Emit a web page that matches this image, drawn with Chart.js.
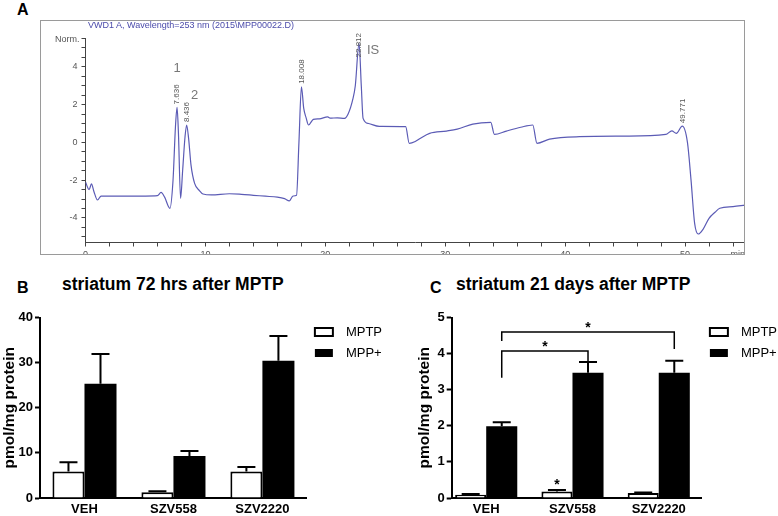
<!DOCTYPE html>
<html>
<head>
<meta charset="utf-8">
<script src="https://cdn.jsdelivr.net/npm/chart.js@4.4.1/dist/chart.umd.min.js"></script>
<style>
  html, body { margin: 0; padding: 0; background: #fff; }
  body { width: 778px; height: 516px; position: relative; overflow: hidden; font-family: Arial, 'Liberation Sans', sans-serif; }
  .letter { position: absolute; font-weight: bold; font-size: 16px; line-height: 16px; color: #000; }
  .title { position: absolute; font-weight: bold; font-size: 17.5px; line-height: 18px; color: #000; white-space: nowrap; }
  #frameA { position: absolute; left: 40px; top: 20px; width: 703px; height: 233px; border: 1px solid #9a9a9a; overflow: hidden; }
  #chartA { position: absolute; left: -1px; top: -1px; }
  #headerA { position: absolute; left: 88px; top: 20px; font-size: 9px; line-height: 10px; color: #4b4bab; white-space: nowrap; }
  canvas { display: block; }
  #chartB { position: absolute; left: 0; top: 300px; }
  #chartC { position: absolute; left: 415px; top: 300px; }
</style>
</head>
<body>
<div class="letter" style="left:17px; top:2px;">A</div>
<div id="frameA"><canvas id="chartA" width="705" height="235"></canvas></div>
<div id="headerA">VWD1 A, Wavelength=253 nm (2015\MPP00022.D)</div>

<div class="letter" style="left:17px; top:280px;">B</div>
<div class="title" style="left:62px; top:275px;">striatum 72 hrs after MPTP</div>
<canvas id="chartB" width="392" height="216"></canvas>

<div class="letter" style="left:430px; top:280px;">C</div>
<div class="title" style="left:456px; top:275px;">striatum 21 days after MPTP</div>
<canvas id="chartC" width="372" height="216"></canvas>

<script>
// Chromatogram (panel A): retention time in min, detector signal (Norm.)
const chromTime = [0, 0.3, 0.5, 0.7, 1.0, 1.3, 3, 5, 6.0, 6.3, 6.6, 7.04, 7.3, 7.5, 7.636, 7.75, 7.93, 8.1, 8.3, 8.436, 8.6, 8.8, 9.1, 9.5, 9.8, 10.5, 12, 13, 14, 15, 16, 16.6, 17.0, 17.3, 17.6, 17.8, 18.008, 18.2, 18.4, 18.6, 19, 19.5, 20.2, 20.4, 21.0, 21.6, 21.9, 22.3, 22.5, 22.812, 23.0, 23.15, 23.6, 24.5, 26.7, 27.0, 27.5, 27.9, 28.7, 30.1, 31, 32.3, 33.8, 34.1, 35.1, 36.3, 37.3, 37.65, 38.7, 41.2, 45, 48.4, 48.9, 49.27, 49.771, 50.2, 50.5, 50.8, 51.1, 51.5, 52.0, 52.5, 52.9, 54.0, 55.0];
const chromSignal = [-2.1, -2.5, -2.2, -2.6, -3.05, -2.84, -2.84, -2.84, -2.82, -2.65, -2.9, -3.49, -2.0, 0.8, 1.85, 0.5, -2.96, -1.5, 0.3, 0.92, 0.2, -1.2, -2.17, -2.55, -2.73, -2.78, -2.72, -2.75, -2.8, -2.85, -2.9, -2.98, -3.1, -2.84, -2.8, 0.0, 2.94, 1.8, 1.3, 0.92, 1.22, 1.25, 1.35, 1.28, 1.3, 1.27, 1.5, 2.3, 3.0, 5.24, 3.0, 1.27, 1.0, 0.85, 0.83, -0.05, 0.05, 0.21, 0.48, 0.6, 0.7, 0.97, 1.06, 0.42, 0.6, 0.8, 0.92, -0.05, 0.17, 0.3, 0.33, 0.42, 0.61, 0.48, 0.86, 0.0, -2.0, -4.29, -4.85, -4.6, -4.02, -3.7, -3.49, -3.4, -3.32];
const chromXTicks = [0, 2, 4, 6, 8, 10, 12, 14, 16, 18, 20, 22, 24, 26, 28, 30, 32, 34, 36, 38, 40, 42, 44, 46, 48, 50, 52, 54];
const chromYTicks = [-5, -4.5, -4, -3.5, -3, -2.5, -2, -1.5, -1, -0.5, 0, 0.5, 1, 1.5, 2, 2.5, 3, 3.5, 4, 4.5, 5, 5.5];
const chromPeakTimes = [7.636, 8.436, 18.008, 22.812, 49.771];
const chromPeakLabels = ['7.636', '8.436', '18.008', '22.812', '49.771'];
const chromPeakNames = ['1', '2', '', 'IS', ''];
const chromXUnit = 'min';
const chromYUnit = 'Norm.';

// Bar panels (B and C)
const groups = ['VEH', 'SZV558', 'SZV2220'];
const seriesNames = ['MPTP', 'MPP+'];
const b72hMPTP = [5.9, 1.3, 5.9];
const b72hMPTPSem = [2.05, 0.2, 0.95];
const b72hMPP = [25.3, 9.3, 30.4];
const b72hMPPSem = [6.6, 1.1, 5.5];
const c21dMPTP = [0.09, 0.18, 0.14];
const c21dMPTPSem = [0.02, 0.04, 0.01];
const c21dMPP = [1.99, 3.47, 3.47];
const c21dMPPSem = [0.11, 0.30, 0.33];
// significance brackets in C (MPP+ bars): from group, to group, bar level, leg ends
const cSigFrom = [0, 0];
const cSigTo = [1, 2];
const cSigLevel = [4.07, 4.6];
const cSigLeftEnd = [3.33, 4.35];
const cSigRightEnd = [3.79, 4.13];

const FONT = "Arial, 'Liberation Sans', sans-serif";
Chart.defaults.font.family = FONT;
Chart.defaults.color = '#000';

// Labels on the chromatogram peaks
const chromAnnotations = {
    id: 'chromAnnotations',
    afterDatasetsDraw(chart) {
        const { ctx, chartArea, scales: { x, y } } = chart;
        ctx.save();
        // retention times, rotated
        ctx.font = '8px ' + FONT;
        ctx.fillStyle = '#555';
        chromPeakTimes.forEach((t, i) => {
            const idx = chromTime.indexOf(t);
            const px = x.getPixelForValue(t);
            const py = y.getPixelForValue(chromSignal[idx]);
            const w = ctx.measureText(chromPeakLabels[i]).width;
            const start = Math.max(py - 3, 13 + w);
            ctx.save();
            ctx.translate(px, start);
            ctx.rotate(-Math.PI / 2);
            ctx.textAlign = 'left';
            ctx.textBaseline = 'middle';
            ctx.fillText(chromPeakLabels[i], 0, 0);
            ctx.restore();
        });
        // peak names
        const offsets = [[0, -39], [8, -30], [0, 0], [14, 7], [0, 0]];
        ctx.font = '13px ' + FONT;
        ctx.fillStyle = '#777';
        ctx.textAlign = 'center';
        ctx.textBaseline = 'middle';
        chromPeakNames.forEach((name, i) => {
            if (!name) return;
            const idx = chromTime.indexOf(chromPeakTimes[i]);
            const px = x.getPixelForValue(chromPeakTimes[i]);
            const py = y.getPixelForValue(chromSignal[idx]);
            ctx.fillText(name, px + offsets[i][0], py + offsets[i][1]);
        });
        // axis units
        ctx.font = '9px ' + FONT;
        ctx.fillStyle = '#555';
        ctx.textAlign = 'right';
        ctx.fillText(chromYUnit, chartArea.left - 6, y.getPixelForValue(y.max) + 1);
        ctx.textBaseline = 'top';
        ctx.fillText(chromXUnit, chartArea.right, chartArea.bottom + 8);
        ctx.restore();
    }
};

// Upper SEM bars
const errorBars = {
    id: 'errorBars',
    afterDatasetsDraw(chart, args, opts) {
        const { ctx } = chart;
        const y = chart.scales.y;
        ctx.save();
        ctx.strokeStyle = '#000';
        ctx.lineWidth = 2;
        (opts.sem || []).forEach((sems, d) => {
            const values = chart.data.datasets[d].data;
            chart.getDatasetMeta(d).data.forEach((bar, i) => {
                const top = y.getPixelForValue(values[i] + sems[i]);
                const base = y.getPixelForValue(values[i]);
                ctx.beginPath();
                ctx.moveTo(bar.x, base);
                ctx.lineTo(bar.x, top);
                ctx.moveTo(bar.x - 9, top);
                ctx.lineTo(bar.x + 9, top);
                ctx.stroke();
            });
        });
        ctx.restore();
    }
};

// Significance brackets and stars
const sigMarks = {
    id: 'sigMarks',
    afterDatasetsDraw(chart, args, opts) {
        if (!opts.from) return;
        const { ctx } = chart;
        const y = chart.scales.y;
        const bars = chart.getDatasetMeta(1).data;
        ctx.save();
        ctx.strokeStyle = '#000';
        ctx.fillStyle = '#000';
        ctx.lineWidth = 1.5;
        ctx.font = 'bold 14px ' + FONT;
        ctx.textAlign = 'center';
        ctx.textBaseline = 'alphabetic';
        opts.from.forEach((f, i) => {
            const x1 = bars[f].x;
            const x2 = bars[opts.to[i]].x;
            const yTop = y.getPixelForValue(opts.level[i]);
            ctx.beginPath();
            ctx.moveTo(x1, y.getPixelForValue(opts.leftEnd[i]));
            ctx.lineTo(x1, yTop);
            ctx.lineTo(x2, yTop);
            ctx.lineTo(x2, y.getPixelForValue(opts.rightEnd[i]));
            ctx.stroke();
            ctx.fillText('*', (x1 + x2) / 2, yTop);
        });
        // star over SZV558 MPTP bar
        const b = chart.getDatasetMeta(0).data[1];
        ctx.fillText('*', b.x, y.getPixelForValue(c21dMPTP[1] + c21dMPTPSem[1]) - 1);
        ctx.restore();
    }
};

new Chart(document.getElementById('chartA'), {
    type: 'line',
    data: {
        datasets: [{
            data: chromTime.map((t, i) => ({ x: t, y: chromSignal[i] })),
            borderColor: '#5b5bb5',
            borderWidth: 1.2,
            pointRadius: 0,
            cubicInterpolationMode: 'monotone',
            fill: false
        }]
    },
    options: {
        responsive: false,
        animation: false,
        layout: { padding: { top: 18.5, right: 0, left: 0, bottom: 0 } },
        plugins: { legend: { display: false }, tooltip: { enabled: false } },
        scales: {
            x: {
                type: 'linear',
                min: 0,
                max: 55,
                afterBuildTicks: (axis) => { axis.ticks = chromXTicks.map(v => ({ value: v })); },
                afterFit: (scale) => { scale.height = 12.5; },
                ticks: {
                    autoSkip: false,
                    maxRotation: 0,
                    padding: 3,
                    color: '#555',
                    font: { size: 9 },
                    callback: (v) => (v % 10 === 0 ? String(v) : '')
                },
                grid: { drawOnChartArea: false, tickLength: 4, tickColor: '#444' },
                border: { color: '#444', width: 1 }
            },
            y: {
                type: 'linear',
                min: -5.3,
                max: 5.5,
                afterBuildTicks: (axis) => { axis.ticks = chromYTicks.map(v => ({ value: v })); },
                afterFit: (scale) => { scale.width = 45.5; },
                ticks: {
                    autoSkip: false,
                    padding: 4,
                    color: '#555',
                    font: { size: 9 },
                    callback: (v) => (Number.isInteger(v) && v % 2 === 0 ? String(v) : '')
                },
                grid: { drawOnChartArea: false, tickLength: 4, tickColor: '#444' },
                border: { color: '#444', width: 1 }
            }
        }
    },
    plugins: [chromAnnotations]
});

// legend entries get a small lead space so the text sits clear of the swatch
function legendItems(chart) {
    return Chart.defaults.plugins.legend.labels.generateLabels(chart)
        .map(item => Object.assign(item, { text: '\u2002' + item.text }));
}

function barOptions(yMax, yStep, yWidth, catPct, xShift, extraPlugins) {
    return {
        responsive: false,
        animation: false,
        layout: { padding: { top: 17.5, right: 0, left: 0, bottom: 0 } },
        datasets: { bar: { barPercentage: 1.0, categoryPercentage: catPct } },
        plugins: Object.assign({
            tooltip: { enabled: false },
            legend: {
                position: 'right',
                align: 'start',
                labels: {
                    boxWidth: 18,
                    boxHeight: 8,
                    padding: 8,
                    color: '#000',
                    font: { size: 13 },
                    generateLabels: legendItems
                }
            }
        }, extraPlugins),
        scales: {
            x: {
                grid: { display: false, drawTicks: false },
                border: { color: '#000', width: 2 },
                afterFit: (scale) => { scale.height = 18; },
                afterUpdate: (scale) => {
                    // groups sit a little closer to the y axis than an even split
                    if (xShift) { scale._startValue = xShift[0]; scale._valueRange = xShift[1]; }
                },
                ticks: { color: '#000', padding: 4, font: { size: 13, weight: 'bold' } }
            },
            y: {
                min: 0,
                max: yMax,
                afterFit: (scale) => { scale.width = yWidth; },
                ticks: { stepSize: yStep, color: '#000', padding: 2, font: { size: 13, weight: 'bold' } },
                grid: { drawOnChartArea: false, tickLength: 5, tickColor: '#000', tickWidth: 2 },
                border: { color: '#000', width: 2 },
                title: {
                    display: true,
                    text: 'pmol/mg protein',
                    color: '#000',
                    padding: 0,
                    font: { size: 15.5, weight: 'bold' }
                }
            }
        }
    };
}

new Chart(document.getElementById('chartB'), {
    type: 'bar',
    data: {
        labels: groups,
        datasets: [
            { label: seriesNames[0], data: b72hMPTP, backgroundColor: '#fff', borderColor: '#000', borderWidth: 2 },
            { label: seriesNames[1], data: b72hMPP, backgroundColor: '#000', borderColor: '#000', borderWidth: 0 }
        ]
    },
    options: barOptions(40, 10, 40, 0.72, null, { errorBars: { sem: [b72hMPTPSem, b72hMPPSem] } }),
    plugins: [errorBars]
});

new Chart(document.getElementById('chartC'), {
    type: 'bar',
    data: {
        labels: groups,
        datasets: [
            { label: seriesNames[0], data: c21dMPTP, backgroundColor: '#fff', borderColor: '#000', borderWidth: 2 },
            { label: seriesNames[1], data: c21dMPP, backgroundColor: '#000', borderColor: '#000', borderWidth: 0 }
        ]
    },
    options: barOptions(5, 1, 36.7, 0.72, [-0.4, 2.9], {
        errorBars: { sem: [c21dMPTPSem, c21dMPPSem] },
        sigMarks: { from: cSigFrom, to: cSigTo, level: cSigLevel, leftEnd: cSigLeftEnd, rightEnd: cSigRightEnd }
    }),
    plugins: [errorBars, sigMarks]
});
</script>
</body>
</html>
